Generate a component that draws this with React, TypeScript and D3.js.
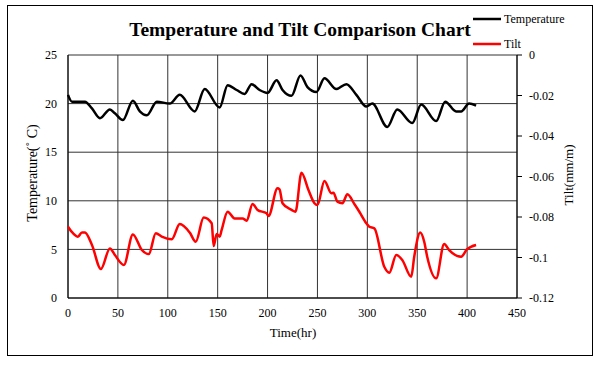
import React from "react";
import * as d3 from "d3";

const tempTimes = [0,4,17,24,32,42,47,55,65,72,79,89,102,112,127,137,152,160,169,177,184,192,200,209,215,224,233,240,249,257,269,279,289,299,305,320,330,345,354,369,378,389,394,402,409];
const tempValues = [20.9,20.2,20.2,19.5,18.5,19.4,19.0,18.3,20.3,19.2,18.8,20.2,20.0,20.9,19.2,21.5,19.6,21.9,21.4,21.0,22.0,21.4,21.1,22.4,21.4,20.8,22.9,21.7,21.2,22.6,21.5,22.0,20.9,19.7,20.0,17.6,19.4,18.0,19.9,18.2,20.2,19.2,19.2,20.0,19.8];

const tiltTimes = [0,5,10,14,17,24,33,42,47,56,65,74,81,88,94,104,112,122,128,136,144,146,149,152,154,160,167,175,179,185,190,199,201,210,212,215,224,228,234,241,247,250,257,264,266,270,275,280,287,292,299,302,307,317,322,329,335,344,347,353,357,360,369,377,382,394,400,409];
const tiltValues = [-0.0848,-0.0880,-0.0897,-0.0876,-0.0877,-0.0938,-0.1057,-0.0955,-0.0988,-0.1037,-0.0886,-0.0963,-0.0983,-0.0880,-0.0897,-0.0910,-0.0835,-0.0877,-0.0922,-0.0803,-0.0831,-0.0943,-0.0884,-0.0897,-0.0864,-0.0774,-0.0807,-0.0807,-0.0818,-0.0736,-0.0765,-0.0782,-0.0795,-0.0658,-0.0663,-0.0732,-0.0765,-0.0774,-0.0581,-0.0667,-0.0732,-0.0741,-0.0622,-0.0683,-0.0680,-0.0724,-0.0732,-0.0688,-0.0736,-0.0774,-0.0831,-0.0848,-0.0856,-0.1046,-0.1075,-0.0988,-0.1012,-0.1095,-0.0996,-0.0877,-0.0922,-0.0996,-0.1103,-0.0933,-0.0963,-0.0996,-0.0959,-0.0938];

const xTicks = [0,50,100,150,200,250,300,350,400,450];
const leftTicks = [0,5,10,15,20,25];
const rightTicks = [0,-0.02,-0.04,-0.06,-0.08,-0.1,-0.12];

const title = "Temperature and Tilt Comparison Chart";
const xLabel = "Time(hr)";
const leftLabel = "Temperature(˚ C)";
const rightLabel = "Tilt(mm/m)";
const seriesNames = ["Temperature", "Tilt"];

export default function App() {
  const W = 604, H = 365;
  const L = 68, R = 517, T = 55, B = 298;
  const x = d3.scaleLinear().domain([0, 450]).range([L, R]);
  const yL = d3.scaleLinear().domain([0, 25]).range([B, T]);
  const yR = d3.scaleLinear().domain([-0.12, 0]).range([B, T]);
  const font = "'Liberation Serif', 'Times New Roman', serif";

  const tempLine = d3.line<number>()
    .x((_, i) => x(tempTimes[i]))
    .y((d) => yL(d))
    .curve(d3.curveMonotoneX);
  const tiltLine = d3.line<number>()
    .x((_, i) => x(tiltTimes[i]))
    .y((d) => yR(d))
    .curve(d3.curveMonotoneX);

  return (
    <svg width={W} height={H} style={{ position: "absolute", left: 0, top: 0 }} fontFamily={font}>
      <rect x={0} y={0} width={W} height={H} fill="#fff" />
      <rect x={7.5} y={5.5} width={585} height={350} fill="none" stroke="#000" strokeWidth={1} />
      {xTicks.map((t) => (
        <line key={"gx" + t} x1={x(t)} x2={x(t)} y1={T} y2={B} stroke="#333" strokeWidth={1} />
      ))}
      {leftTicks.map((t) => (
        <line key={"gy" + t} x1={L} x2={R} y1={yL(t)} y2={yL(t)} stroke="#333" strokeWidth={1} />
      ))}
      <line x1={L} x2={L} y1={T} y2={B} stroke="#000" />
      <line x1={L} x2={R} y1={B} y2={B} stroke="#000" />
      <line x1={R} x2={R} y1={T} y2={B} stroke="#000" />
      {rightTicks.map((t) => (
        <line key={"rt" + t} x1={R} x2={R + 5} y1={yR(t)} y2={yR(t)} stroke="#000" />
      ))}
      {leftTicks.map((t) => (
        <text key={"lt" + t} x={L - 11} y={yL(t)} dy="0.35em" textAnchor="end" fontSize={12}>{t}</text>
      ))}
      {rightTicks.map((t) => (
        <text key={"rl" + t} x={R + 12} y={yR(t)} dy="0.35em" textAnchor="start" fontSize={12}>{t}</text>
      ))}
      {xTicks.map((t) => (
        <text key={"xl" + t} x={x(t)} y={313} dy="0.35em" textAnchor="middle" fontSize={12}>{t}</text>
      ))}
      <text x={293} y={332} dy="0.35em" textAnchor="middle" fontSize={13}>{xLabel}</text>
      <text transform={`translate(32,173) rotate(-90)`} dy="0.35em" textAnchor="middle" fontSize={14}>{leftLabel}</text>
      <text transform={`translate(568,175) rotate(-90)`} dy="0.35em" textAnchor="middle" fontSize={13}>{rightLabel}</text>
      <path d={tempLine(tempValues) || ""} fill="none" stroke="#000" strokeWidth={2.5} strokeLinejoin="round" />
      <path d={tiltLine(tiltValues) || ""} fill="none" stroke="#ff0000" strokeWidth={2.5} strokeLinejoin="round" />
      <text x={300} y={29} dy="0.35em" textAnchor="middle" fontSize={19.5} fontWeight="bold">{title}</text>
      <line x1={473} x2={501} y1={19} y2={19} stroke="#000" strokeWidth={2.5} />
      <text x={504} y={19} dy="0.35em" fontSize={12}>{seriesNames[0]}</text>
      <line x1={473} x2={501} y1={44} y2={44} stroke="#ff0000" strokeWidth={2.5} />
      <text x={504} y={44} dy="0.35em" fontSize={12}>{seriesNames[1]}</text>
    </svg>
  );
}
